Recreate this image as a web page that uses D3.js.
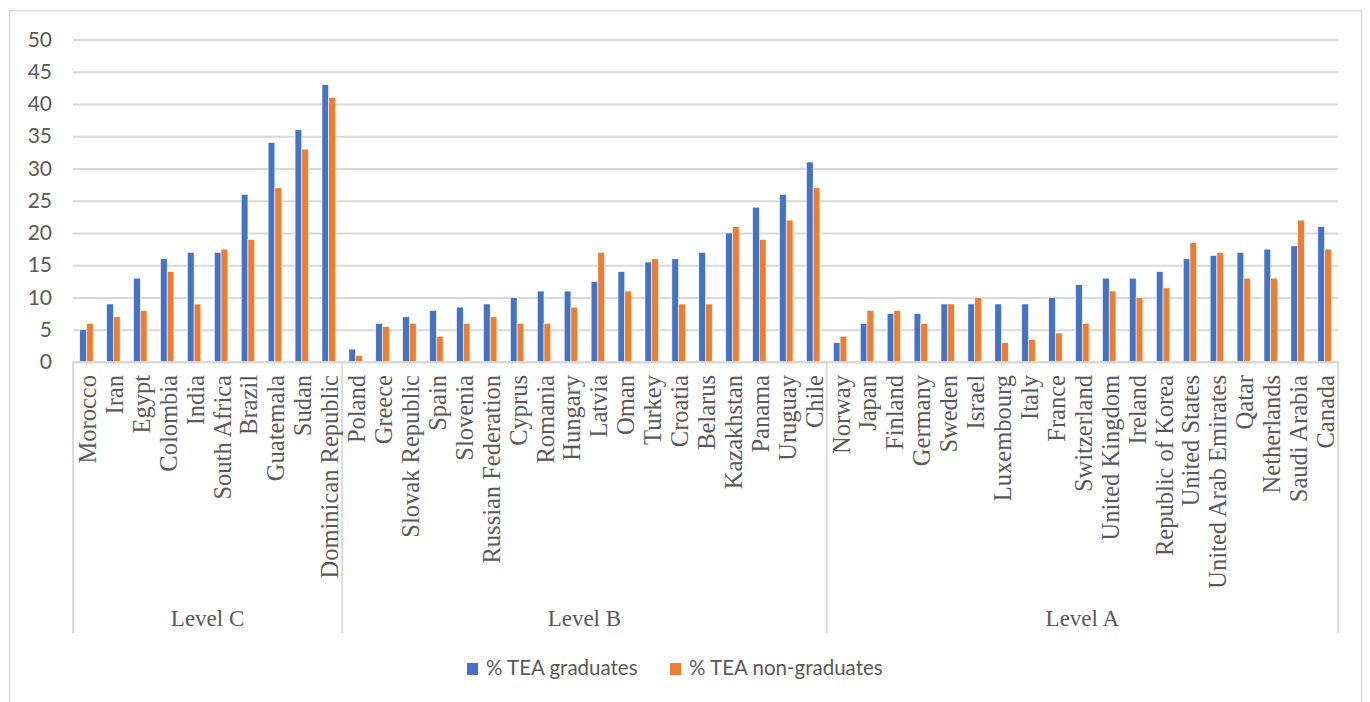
<!DOCTYPE html>
<html>
<head>
<meta charset="utf-8">
<script src="https://cdn.jsdelivr.net/npm/d3@7"></script>
<style>
  html, body { margin: 0; padding: 0; background: #fff; }
  svg { display: block; }
</style>
</head>
<body>
<svg id="chart" width="1370" height="702"></svg>
<script>
// Country groups, in display order
const levelC = ["Morocco", "Iran", "Egypt", "Colombia", "India", "South Africa", "Brazil", "Guatemala", "Sudan", "Dominican Republic"];
const levelB = ["Poland", "Greece", "Slovak Republic", "Spain", "Slovenia", "Russian Federation", "Cyprus", "Romania", "Hungary", "Latvia", "Oman", "Turkey", "Croatia", "Belarus", "Kazakhstan", "Panama", "Uruguay", "Chile"];
const levelA = ["Norway", "Japan", "Finland", "Germany", "Sweden", "Israel", "Luxembourg", "Italy", "France", "Switzerland", "United Kingdom", "Ireland", "Republic of Korea", "United States", "United Arab Emirates", "Qatar", "Netherlands", "Saudi Arabia", "Canada"];
const groupNames = ["Level C", "Level B", "Level A"];

// % TEA graduates
const gradC = [5, 9, 13, 16, 17, 17, 26, 34, 36, 43];
const gradB = [2, 6, 7, 8, 8.5, 9, 10, 11, 11, 12.5, 14, 15.5, 16, 17, 20, 24, 26, 31];
const gradA = [3, 6, 7.5, 7.5, 9, 9, 9, 9, 10, 12, 13, 13, 14, 16, 16.5, 17, 17.5, 18, 21];

// % TEA non-graduates
const nonC = [6, 7, 8, 14, 9, 17.5, 19, 27, 33, 41];
const nonB = [1, 5.5, 6, 4, 6, 7, 6, 6, 8.5, 17, 11, 16, 9, 9, 21, 19, 22, 27];
const nonA = [4, 8, 8, 6, 9, 10, 3, 3.5, 4.5, 6, 11, 10, 11.5, 18.5, 17, 13, 13, 22, 17.5];

const seriesNames = ["% TEA graduates", "% TEA non-graduates"];
const seriesColors = ["#4472C4", "#ED7D31"];
const yTicks = [0, 5, 10, 15, 20, 25, 30, 35, 40, 45, 50];

// Flatten into rows for the scales
const groups = [
  { name: groupNames[0], cats: levelC, g: gradC, n: nonC },
  { name: groupNames[1], cats: levelB, g: gradB, n: nonB },
  { name: groupNames[2], cats: levelA, g: gradA, n: nonA }
];
const rows = [];
groups.forEach((grp, gi) => {
  grp.cats.forEach((c, i) => {
    rows.push({ key: gi + ":" + c, country: c, group: gi, vals: [grp.g[i], grp.n[i]] });
  });
});

const svg = d3.select("#chart");
const plot = { left: 73, right: 1338, top: 39.5, bottom: 362 };

const x = d3.scaleBand()
  .domain(rows.map(d => d.key))
  .range([plot.left, plot.right])
  .padding(0);

const xSub = d3.scaleBand()
  .domain([0, 1])
  .range([0, x.bandwidth()])
  .paddingInner(0)
  .paddingOuter(1);

const y = d3.scaleLinear()
  .domain([0, 50])
  .range([plot.bottom, plot.top]);

const gridColor = "#d9d9d9";
const textColor = "#595959";

// Outer chart frame
svg.append("rect")
  .attr("x", 9.5).attr("y", 10.5)
  .attr("width", 1352).attr("height", 700)
  .attr("fill", "none")
  .attr("stroke", gridColor)
  .attr("stroke-width", 1.5);

// Horizontal gridlines + value labels
const yAxis = d3.axisLeft(y)
  .tickValues(yTicks)
  .tickSize(-(plot.right - plot.left))
  .tickPadding(21);

const yg = svg.append("g")
  .attr("transform", `translate(${plot.left},0)`)
  .call(yAxis);
yg.select(".domain").remove();
yg.selectAll(".tick line")
  .attr("stroke", gridColor)
  .attr("stroke-width", 1.8);
yg.selectAll(".tick text")
  .attr("fill", textColor)
  .style("font-family", "Lato, 'Open Sans', sans-serif")
  .style("font-size", "21px");

// Bars
const barG = svg.append("g");
rows.forEach(r => {
  barG.selectAll(null)
    .data(r.vals)
    .enter()
    .append("rect")
    .attr("x", (v, i) => x(r.key) + xSub(i))
    .attr("y", v => y(v))
    .attr("width", xSub.bandwidth())
    .attr("height", v => y(0) - y(v))
    .attr("fill", (v, i) => seriesColors[i])
    .attr("stroke", "#ffffff")
    .attr("stroke-width", 0.6);
});

// Category axis line
svg.append("line")
  .attr("x1", plot.left).attr("x2", plot.right)
  .attr("y1", y(0)).attr("y2", y(0))
  .attr("stroke", gridColor)
  .attr("stroke-width", 1.8);

// Group separators
const sepBottom = 633;
const boundaries = [plot.left];
let acc = 0;
groups.forEach(grp => {
  acc += grp.cats.length;
  boundaries.push(x(rows[acc - 1].key) + x.bandwidth());
});
svg.selectAll(".sep")
  .data(boundaries)
  .enter()
  .append("line")
  .attr("x1", d => d).attr("x2", d => d)
  .attr("y1", y(0)).attr("y2", sepBottom)
  .attr("stroke", gridColor)
  .attr("stroke-width", 1.8);

// Country labels (rotated)
svg.selectAll(".cat")
  .data(rows)
  .enter()
  .append("text")
  .attr("transform", d => `translate(${x(d.key) + x.bandwidth() / 2 + 9.5},375) rotate(-90)`)
  .attr("text-anchor", "end")
  .attr("fill", textColor)
  .style("font-family", "'Liberation Serif', 'Times New Roman', serif")
  .style("font-size", "24.5px")
  .text(d => d.country);

// Group labels
svg.selectAll(".grp")
  .data(groups)
  .enter()
  .append("text")
  .attr("x", (d, i) => (boundaries[i] + boundaries[i + 1]) / 2)
  .attr("y", 626)
  .attr("text-anchor", "middle")
  .attr("fill", textColor)
  .style("font-family", "'Liberation Serif', 'Times New Roman', serif")
  .style("font-size", "23px")
  .text(d => d.name);

// Legend
const legendItems = [
  { name: seriesNames[0], color: seriesColors[0], x: 467 },
  { name: seriesNames[1], color: seriesColors[1], x: 670 }
];
const lg = svg.append("g");
legendItems.forEach(it => {
  lg.append("rect")
    .attr("x", it.x).attr("y", 663)
    .attr("width", 11).attr("height", 12)
    .attr("fill", it.color);
  lg.append("text")
    .attr("x", it.x + 19).attr("y", 675)
    .attr("fill", textColor)
    .style("font-family", "Lato, 'Open Sans', sans-serif")
    .style("font-size", "20.5px")
    .text(it.name);
});
</script>
</body>
</html>
